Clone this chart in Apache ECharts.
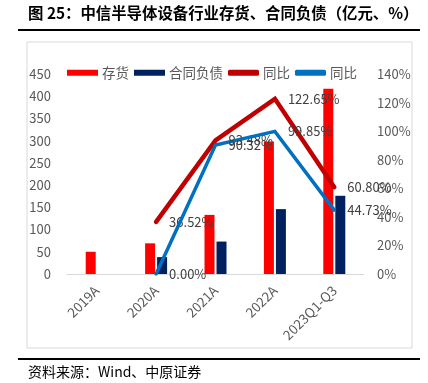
<!DOCTYPE html>
<html><head><meta charset="utf-8">
<script src="https://cdn.jsdelivr.net/npm/echarts@6/dist/echarts.min.js"></script>
<style>html,body{margin:0;padding:0;background:#fff}#c{width:428px;height:383px}</style>
</head><body><div id="c"></div>
<script>
const categories = ['2019A','2020A','2021A','2022A','2023Q1-Q3'];
const inventory = [50, 69, 133, 298, 417];
const contractLiab = [null, 38, 73, 146, 176];
const inventoryYoy = [null, 36.52, 93.48, 122.65, 60.80];
const contractYoy = [null, 0.00, 90.32, 99.85, 44.73];
const leftTicks = {min: 0, max: 450, interval: 50};
const rightTicks = {min: 0, max: 140, interval: 20};

const FONT = '"Noto Sans CJK SC","Noto Sans",sans-serif';
const chart = echarts.init(document.getElementById('c'), null, {renderer: 'canvas'});
const lbl = {show: true, position: 'right', distance: 13, color: '#404040', fontSize: 13, fontFamily: FONT,
  formatter: p => p.value == null ? '' : Number(p.value).toFixed(2) + '%'};
chart.setOption({
  animation: false,
  graphic: [
    {type: 'text', left: 28, top: 5, style: {text: '图 25：中信半导体设备行业存货、合同负债（亿元、%）', font: 'bold 15.4px ' + FONT, fill: '#000'}},
    {type: 'rect', shape: {x: 18, y: 29, width: 402, height: 2}, style: {fill: '#000'}},
    {type: 'rect', shape: {x: 27, y: 42, width: 385, height: 306}, style: {fill: 'none', stroke: '#d9d9d9', lineWidth: 1}},
    {type: 'rect', shape: {x: 18, y: 358, width: 402, height: 2}, style: {fill: '#000'}},
    {type: 'text', left: 28, top: 365, style: {text: '资料来源：Wind、中原证券', font: '14px ' + FONT, fill: '#000'}}
  ],
  legend: {
    left: 62, top: 61, itemWidth: 31, itemHeight: 6, itemGap: 5,
    textStyle: {color: '#595959', fontSize: 13.5, fontFamily: FONT, padding: [0, 0, 0, -1]},
    data: [
      {name: '存货', icon: 'rect'},
      {name: '合同负债', icon: 'rect'},
      {name: '同比', icon: 'roundRect'},
      {name: '同比 ', icon: 'roundRect'}
    ]
  },
  grid: {left: 67, right: 64, top: 74, bottom: 109, containLabel: false},
  xAxis: {
    type: 'category', data: categories,
    axisLine: {lineStyle: {color: '#d9d9d9', width: 1}},
    axisTick: {show: false},
    axisLabel: {rotate: 45, color: '#595959', fontSize: 13.5, fontFamily: FONT, margin: 14, interval: 0}
  },
  yAxis: [
    {type: 'value', min: leftTicks.min, max: leftTicks.max, interval: leftTicks.interval,
      splitLine: {show: false}, axisLine: {show: false}, axisTick: {show: false},
      axisLabel: {color: '#595959', fontSize: 13, fontFamily: FONT, margin: 16}},
    {type: 'value', min: rightTicks.min, max: rightTicks.max, interval: rightTicks.interval,
      splitLine: {show: false}, axisLine: {show: false}, axisTick: {show: false},
      axisLabel: {color: '#595959', fontSize: 13, fontFamily: FONT, margin: 13, formatter: '{value}%'}}
  ],
  series: [
    {name: '存货', type: 'bar', data: inventory, barWidth: 10, barGap: '20%', itemStyle: {color: '#FF0000'}},
    {name: '合同负债', type: 'bar', data: contractLiab, barWidth: 10, barGap: '20%', itemStyle: {color: '#002060'}},
    {name: '同比', type: 'line', yAxisIndex: 1, data: inventoryYoy, showSymbol: true, symbol: 'circle', symbolSize: 0.01,
      lineStyle: {color: '#C00000', width: 4.5, cap: 'round', join: 'miter'}, itemStyle: {color: '#C00000'}, label: lbl, z: 3},
    {name: '同比 ', type: 'line', yAxisIndex: 1, data: contractYoy, showSymbol: true, symbol: 'circle', symbolSize: 0.01,
      lineStyle: {color: '#0070C0', width: 3.5, cap: 'round', join: 'miter'}, itemStyle: {color: '#0070C0'}, label: lbl, z: 4}
  ]
});
</script></body></html>
